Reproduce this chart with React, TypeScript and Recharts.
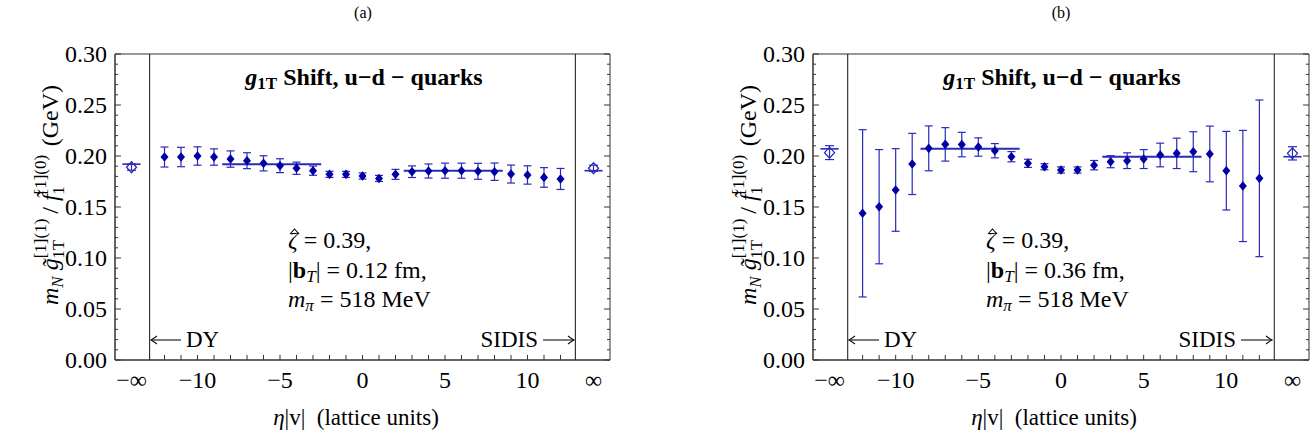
import React from 'react'
import { ComposedChart, Scatter, ErrorBar, XAxis, YAxis, ReferenceLine, ReferenceArea } from 'recharts'

const eta = [-12, -11, -10, -9, -8, -7, -6, -5, -4, -3, -2, -1, 0, 1, 2, 3, 4, 5, 6, 7, 8, 9, 10, 11, 12]

// panel (a), |bT| = 0.12 fm
const shiftA = [0.199, 0.199, 0.2, 0.199, 0.197, 0.1954, 0.1928, 0.1905, 0.188, 0.1856, 0.182, 0.182, 0.1804,
  0.178, 0.182, 0.1846, 0.1853, 0.1856, 0.1856, 0.185, 0.1846, 0.1823, 0.1814, 0.179, 0.1775]
const errA = [0.0098, 0.0095, 0.009, 0.008, 0.008, 0.0078, 0.0074, 0.0068, 0.006, 0.0045, 0.003, 0.003, 0.003,
  0.003, 0.0049, 0.0057, 0.0069, 0.0074, 0.0074, 0.0078, 0.0085, 0.0088, 0.009, 0.0096, 0.0103]

// panel (b), |bT| = 0.36 fm
const shiftB = [0.1438, 0.1503, 0.1667, 0.1922, 0.2075, 0.2114, 0.2112, 0.2088, 0.2052, 0.1993, 0.1928, 0.1895, 0.1863,
  0.1863, 0.191, 0.1944, 0.1954, 0.197, 0.201, 0.2026, 0.2042, 0.202, 0.1856, 0.1706, 0.1781]
const errB = [0.082, 0.056, 0.0405, 0.03, 0.022, 0.0164, 0.012, 0.009, 0.007, 0.005, 0.004, 0.003, 0.003,
  0.003, 0.0046, 0.0059, 0.0077, 0.0093, 0.0116, 0.0149, 0.0196, 0.0273, 0.0385, 0.0545, 0.0768]

// eta -> -inf / +inf points
const infX = [-14, 14]
const infA = [0.189, 0.188]
const infErrA = [0.003, 0.003]
const infB = [0.2033, 0.2026]
const infErrB = [0.0068, 0.0065]

// plateau fits (DY side, SIDIS side)
const fitRanges = [[-8.5, -2.5], [2.5, 8.5]]
const fitA = [0.192, 0.1856]
const fitB = [0.207, 0.1993]

const xTicks = [-14, -10, -5, 0, 5, 10, 14]
const xTickLabels = ['−∞', '−10', '−5', '0', '5', '10', '∞']
const yTicks = [0, 0.05, 0.1, 0.15, 0.2, 0.25, 0.3]
const yMinor = [0, 0.01, 0.02, 0.03, 0.04, 0.05, 0.06, 0.07, 0.08, 0.09, 0.1, 0.11, 0.12, 0.13, 0.14, 0.15,
  0.16, 0.17, 0.18, 0.19, 0.2, 0.21, 0.22, 0.23, 0.24, 0.25, 0.26, 0.27, 0.28, 0.29, 0.3]
const regionEdges = [-12.9, 12.9]

const FONT = 'Liberation Serif, Times New Roman, serif'
const BLUE = '#0000a6'
const BAR = '#2a2abb'
const AX = '#333'

const Diamond = (p: any) => (
  <polygon points={`${p.cx},${p.cy - 4.8} ${p.cx + 4},${p.cy} ${p.cx},${p.cy + 4.8} ${p.cx - 4},${p.cy}`} fill={BLUE} />
)
const OpenDiamond = (p: any) => (
  <polygon points={`${p.cx},${p.cy - 5.5} ${p.cx + 5},${p.cy} ${p.cx},${p.cy + 5.5} ${p.cx - 5},${p.cy}`}
    fill="none" stroke={BAR} strokeWidth={1.3} />
)

const XTick = (p: any) => (
  <text x={p.x} y={p.y} dy={20} textAnchor="middle" fontSize={24} fontFamily={FONT} fill="#000">
    {xTickLabels[xTicks.indexOf(p.payload.value)]}
  </text>
)
const YTick = (p: any) => (
  <text x={p.x} y={p.y} dy={8} textAnchor="end" fontSize={24} fontFamily={FONT} fill="#000">
    {Number(p.payload.value).toFixed(2)}
  </text>
)

const Arrow = ({ x1, x2, y }: { x1: number; x2: number; y: number }) => {
  const d = x2 > x1 ? -1 : 1
  return (
    <g stroke="#111" strokeWidth={1.1} fill="none">
      <line x1={x1} y1={y} x2={x2} y2={y} />
      <path d={`M${x2 + d * 6},${y - 4} Q${x2 + d * 2},${y - 1} ${x2},${y} Q${x2 + d * 2},${y + 1} ${x2 + d * 6},${y + 4}`} />
    </g>
  )
}

type PanelProps = {
  W: number
  ml: number
  mr: number
  shift: number
  tag: string
  bT: string
  vals: number[]
  errs: number[]
  inf: number[]
  infErr: number[]
  fit: number[]
}

const Panel = ({ W, ml, mr, shift, tag, bT, vals, errs, inf, infErr, fit }: PanelProps) => {
  const pts = eta.map((x, i) => ({ x, y: vals[i], err: errs[i] }))
  const infPts = infX.map((x, i) => ({ x, y: inf[i], err: infErr[i] }))
  const s = shift
  return (
    <div style={{ position: 'relative', width: W, height: 439 }}>
      <ComposedChart width={W} height={439} margin={{ top: 54, right: mr, bottom: 49, left: ml }}>
        <XAxis dataKey="x" type="number" domain={[-15, 15]} ticks={xTicks} interval={0} allowDataOverflow
          tickLine={false} height={30} axisLine={{ stroke: AX }} tick={XTick} />
        <YAxis dataKey="y" type="number" domain={[0, 0.3]} ticks={yTicks} interval={0} allowDataOverflow
          tickLine={false} width={60} axisLine={{ stroke: AX }} tick={YTick} />
        <ReferenceArea x1={-15} x2={15} y1={0} y2={0.3} fill="none" stroke={AX} strokeWidth={1} />
        {regionEdges.map((x) => (
          <ReferenceLine key={'e' + x} x={x} stroke="#111" strokeWidth={1} />
        ))}
        {eta.map((x) => (
          <ReferenceLine key={'mx' + x} segment={[{ x, y: 0 }, { x, y: 0.005 }]} stroke={AX} />
        ))}
        {yMinor.map((y, i) => {
          const len = i % 5 === 0 ? 0.36 : 0.18
          return (
            <React.Fragment key={'my' + i}>
              <ReferenceLine segment={[{ x: -15, y }, { x: -15 + len, y }]} stroke={AX} />
              <ReferenceLine segment={[{ x: 15, y }, { x: 15 - len, y }]} stroke={AX} />
            </React.Fragment>
          )
        })}
        {fitRanges.map((r, i) => (
          <ReferenceLine key={'f' + i} segment={[{ x: r[0], y: fit[i] }, { x: r[1], y: fit[i] }]}
            stroke={BAR} strokeWidth={2} />
        ))}
        {infX.map((x, i) => (
          <ReferenceLine key={'fi' + i} segment={[{ x: x - 0.55, y: fit[i] }, { x: x + 0.55, y: fit[i] }]}
            stroke={BAR} strokeWidth={1.6} />
        ))}
        <Scatter data={pts} shape={Diamond} isAnimationActive={false}>
          <ErrorBar dataKey="err" direction="y" width={4} stroke={BAR} strokeWidth={1.2} />
        </Scatter>
        <Scatter data={infPts} shape={OpenDiamond} isAnimationActive={false}>
          <ErrorBar dataKey="err" direction="y" width={4.5} stroke={BAR} strokeWidth={1.2} />
        </Scatter>
      </ComposedChart>
      <svg width={W} height={439} style={{ position: 'absolute', left: 0, top: 0, pointerEvents: 'none' }}
        fontFamily={FONT}>
        <text x={363 + s} y={18} fontSize={16} textAnchor="middle">{tag}</text>
        <text x={364 + s} y={85} fontSize={24} fontWeight="bold" textAnchor="middle">
          <tspan fontStyle="italic">g</tspan>
          <tspan fontSize={17} dy={4}>1T</tspan>
          <tspan dy={-4}> Shift, u−d − quarks</tspan>
        </text>
        <text x={288 + s} y={248} fontSize={24}>
          <tspan fontStyle="italic">ζ</tspan> = 0.39,
        </text>
        <path d={`M${290 + s},${234} L${294.5 + s},${229} L${299 + s},${234}`} stroke="#000" strokeWidth={1.1} fill="none" />
        <text x={288 + s} y={278} fontSize={24}>
          |<tspan fontWeight="bold">b</tspan>
          <tspan fontStyle="italic" fontSize={17} dy={4}>T</tspan>
          <tspan dy={-4}>| = {bT} fm,</tspan>
        </text>
        <text x={288 + s} y={307} fontSize={24}>
          <tspan fontStyle="italic">m</tspan>
          <tspan fontStyle="italic" fontSize={17} dy={4}>π</tspan>
          <tspan dy={-4}> = 518 MeV</tspan>
        </text>
        <Arrow x1={181 + s} x2={151 + s} y={340} />
        <text x={186 + s} y={347} fontSize={23}>DY</text>
        <text x={538 + s} y={347} fontSize={23} textAnchor="end">SIDIS</text>
        <Arrow x1={543 + s} x2={574 + s} y={340} />
        <text x={356 + s} y={425} fontSize={23} textAnchor="middle">
          <tspan fontStyle="italic">η</tspan>|v|{'\u00a0\u00a0'}(lattice units)
        </text>
        <text transform={`translate(${58 + s},195) rotate(-90)`} fontSize={24} textAnchor="middle">
          <tspan fontStyle="italic">m</tspan>
          <tspan fontStyle="italic" fontSize={17} dy={5}>N</tspan>
          <tspan dy={-5} fontStyle="italic">{'\u00a0g̃'}</tspan>
          <tspan fontSize={17} dy={-12}>[1](1)</tspan>
          <tspan fontSize={17} dx={-40} dy={18}>1T</tspan>
          <tspan dx={20} dy={-6}>{'\u00a0/\u00a0'}</tspan>
          <tspan fontStyle="italic">f̃</tspan>
          <tspan fontSize={17} dy={-12}>[1](0)</tspan>
          <tspan fontSize={17} dx={-40} dy={18}>1</tspan>
          <tspan dx={40} dy={-6}>(GeV)</tspan>
        </text>
      </svg>
    </div>
  )
}

export default function App() {
  return (
    <div style={{ position: 'absolute', left: 0, top: 0, width: 1311, height: 439, display: 'flex', background: '#fff', fontFamily: FONT }}>
      <Panel W={655} ml={55} mr={45} shift={0} tag="(a)" bT="0.12" vals={shiftA} errs={errA}
        inf={infA} infErr={infErrA} fit={fitA} />
      <Panel W={656} ml={98} mr={2} shift={43} tag="(b)" bT="0.36" vals={shiftB} errs={errB}
        inf={infB} infErr={infErrB} fit={fitB} />
    </div>
  )
}
